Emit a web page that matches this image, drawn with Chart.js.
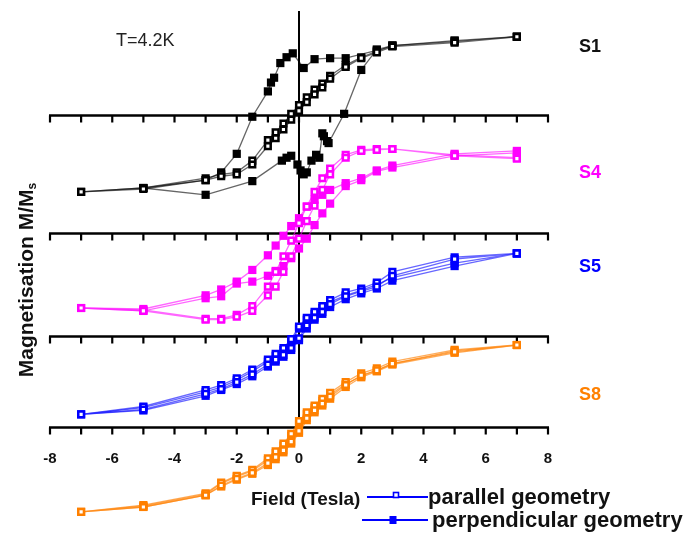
<!DOCTYPE html>
<html>
<head>
<meta charset="utf-8">
<script src="https://cdn.jsdelivr.net/npm/chart.js@4/dist/chart.umd.min.js"></script>
<style>
  html, body { margin: 0; padding: 0; background: #fff; }
  canvas { display: block; }
</style>
</head>
<body>
<canvas id="c" width="686" height="534"></canvas>
<script>
// Field sweep (Tesla): from +7 T down to -7 T, then back up to +7 T
const sweepDown = [7, 5, 3, 2.5, 2, 1.5, 1, 0.75, 0.5, 0.25, 0, -0.25, -0.5, -0.75, -1, -1.5, -2, -2.5, -3, -5, -7];
const sweepUp = [-5, -3, -2.5, -2, -1.5, -1, -0.75, -0.5, -0.25, 0, 0.25, 0.5, 0.75, 1, 1.5, 2, 2.5, 3, 5, 7];

// Tick labels on the field axis
const fieldTicks = [-8, -6, -4, -2, 0, 2, 4, 6, 8];
const sampleNames = ['S1', 'S4', 'S5', 'S8'];

// S1 — parallel geometry (M/Ms)
const s1ParDown = [0.970, 0.910, 0.861, 0.789, 0.717, 0.620, 0.488, 0.392, 0.319, 0.223, 0.127, 0.018, -0.102, -0.211, -0.307, -0.560, -0.705, -0.729, -0.777, -0.898, -0.946];
const s1ParUp = [-0.910, -0.801, -0.753, -0.729, -0.608, -0.380, -0.283, -0.175, -0.054, 0.054, 0.163, 0.259, 0.343, 0.452, 0.596, 0.705, 0.777, 0.849, 0.898, 0.970];

// S1 — perpendicular geometry, measured at its own field steps
const s1PerpFieldDown = [7, 5, 3, 2.5, 1.5, 1, 0.5, 0.15, -0.2, -0.4, -0.6, -0.8, -0.9, -1, -1.5, -2, -2.5, -3, -5, -7];
const s1PerpDown = [0.970, 0.922, 0.861, 0.801, 0.705, 0.705, 0.693, 0.584, 0.765, 0.717, 0.645, 0.464, 0.404, 0.295, -0.018, -0.476, -0.705, -0.801, -0.898, -0.946];
const s1PerpFieldUp = [-5, -3, -1.5, -0.55, -0.4, -0.25, -0.05, 0.05, 0.15, 0.25, 0.4, 0.55, 0.65, 0.75, 0.8, 0.9, 0.95, 1.45, 2, 2.5, 3, 5, 7];
const s1PerpUp = [-0.898, -0.982, -0.813, -0.560, -0.524, -0.500, -0.608, -0.681, -0.729, -0.705, -0.560, -0.488, -0.524, -0.223, -0.259, -0.319, -0.343, 0.018, 0.560, 0.813, 0.861, 0.922, 0.970];

// S4
const s4ParDown = [0.934, 0.970, 1.042, 1.042, 1.030, 0.970, 0.801, 0.681, 0.512, 0.331, 0.127, -0.090, -0.283, -0.476, -0.657, -0.898, -1.006, -1.054, -1.054, -0.946, -0.922];
const s4ParUp = [-0.958, -1.066, -1.066, -1.030, -0.958, -0.765, -0.657, -0.476, -0.283, -0.066, 0.151, 0.343, 0.536, 0.729, 0.934, 1.018, 1.030, 1.042, 0.958, 0.922];
const s4PerpDown = [1.018, 0.982, 0.837, 0.777, 0.681, 0.620, 0.536, 0.476, 0.416, 0.331, 0.187, 0.090, -0.030, -0.151, -0.271, -0.452, -0.596, -0.693, -0.765, -0.934, -0.922];
const s4PerpUp = [-0.958, -0.801, -0.777, -0.620, -0.596, -0.524, -0.464, -0.404, -0.307, -0.187, -0.066, 0.102, 0.247, 0.367, 0.584, 0.657, 0.765, 0.813, 0.958, 0.994];

// S5
const s5ParDown = [1.018, 0.970, 0.789, 0.657, 0.584, 0.536, 0.440, 0.367, 0.295, 0.223, 0.114, -0.042, -0.151, -0.223, -0.295, -0.416, -0.524, -0.608, -0.669, -0.873, -0.970];
const s5ParUp = [-0.910, -0.717, -0.657, -0.572, -0.476, -0.355, -0.295, -0.235, -0.151, -0.030, 0.127, 0.223, 0.295, 0.392, 0.488, 0.548, 0.608, 0.741, 0.946, 1.018];
const s5PerpDown = [1.018, 0.898, 0.717, 0.633, 0.560, 0.500, 0.416, 0.343, 0.271, 0.199, 0.090, -0.066, -0.175, -0.247, -0.319, -0.440, -0.548, -0.633, -0.693, -0.886, -0.970];
const s5PerpUp = [-0.922, -0.741, -0.669, -0.596, -0.500, -0.380, -0.319, -0.259, -0.175, -0.054, 0.090, 0.199, 0.271, 0.355, 0.452, 0.524, 0.584, 0.681, 0.861, 1.018];

// S8
const s8ParDown = [1.018, 0.958, 0.813, 0.729, 0.669, 0.560, 0.428, 0.355, 0.271, 0.187, 0.078, -0.078, -0.199, -0.295, -0.380, -0.524, -0.596, -0.681, -0.813, -0.958, -1.042];
const s8ParUp = [-0.982, -0.837, -0.717, -0.633, -0.560, -0.440, -0.367, -0.283, -0.175, -0.042, 0.114, 0.211, 0.295, 0.380, 0.524, 0.645, 0.705, 0.789, 0.934, 1.018];
const s8PerpDown = [1.018, 0.946, 0.789, 0.705, 0.633, 0.536, 0.404, 0.331, 0.247, 0.163, 0.042, -0.102, -0.223, -0.319, -0.404, -0.536, -0.608, -0.693, -0.825, -0.970, -1.042];
const s8PerpUp = [-0.982, -0.837, -0.729, -0.645, -0.572, -0.464, -0.392, -0.307, -0.199, -0.066, 0.090, 0.187, 0.271, 0.355, 0.500, 0.620, 0.693, 0.777, 0.922, 1.018];

// Vertical stacking: each sample's loop sits on its own baseline
const panelOffset = { S1: 0, S4: -1.458, S5: -2.723, S8: -3.855 };
const panelColor = { S1: '#000000', S4: '#ff00ff', S5: '#0000ff', S8: '#ff8000' };
const panelLine = { S1: 'rgba(0,0,0,0.6)', S4: 'rgba(255,0,255,0.6)', S5: 'rgba(0,0,255,0.6)', S8: 'rgba(255,128,0,0.65)' };

function loop(fDown, mDown, fUp, mUp, offset) {
  const pts = [];
  fDown.forEach((f, i) => pts.push({ x: f, y: mDown[i] + offset }));
  fUp.forEach((f, i) => pts.push({ x: f, y: mUp[i] + offset }));
  return pts;
}

function dataset(name, pts, filled) {
  const col = panelColor[name];
  return {
    label: name + (filled ? ' perpendicular' : ' parallel'),
    data: pts,
    showLine: true,
    borderColor: panelLine[name],
    borderWidth: 1.3,
    pointStyle: 'rect',
    pointRadius: filled ? 5.8 : 4,
    pointBorderWidth: filled ? 0 : 2.5,
    pointBorderColor: col,
    pointBackgroundColor: filled ? col : '#ffffff',
    clip: false
  };
}

const datasets = [
  dataset('S1', loop(sweepDown, s1ParDown, sweepUp, s1ParUp, panelOffset.S1), false),
  dataset('S1', loop(s1PerpFieldDown, s1PerpDown, s1PerpFieldUp, s1PerpUp, panelOffset.S1), true),
  dataset('S4', loop(sweepDown, s4ParDown, sweepUp, s4ParUp, panelOffset.S4), false),
  dataset('S4', loop(sweepDown, s4PerpDown, sweepUp, s4PerpUp, panelOffset.S4), true),
  dataset('S5', loop(sweepDown, s5ParDown, sweepUp, s5ParUp, panelOffset.S5), false),
  dataset('S5', loop(sweepDown, s5PerpDown, sweepUp, s5PerpUp, panelOffset.S5), true),
  dataset('S8', loop(sweepDown, s8ParDown, sweepUp, s8ParUp, panelOffset.S8), false),
  dataset('S8', loop(sweepDown, s8PerpDown, sweepUp, s8PerpUp, panelOffset.S8), true)
];

const FONT = '"Liberation Sans", Arial, sans-serif';

// Axes: one field axis per sample baseline, the zero-field line, labels and legend
const stackedAxes = {
  id: 'stackedAxes',
  beforeDatasetsDraw(chart) {
    const { ctx, scales: { x, y } } = chart;
    ctx.save();
    ctx.strokeStyle = '#000';
    ctx.lineCap = 'butt';
    const xl = x.getPixelForValue(-8), xr = x.getPixelForValue(8);
    sampleNames.forEach(n => {
      const py = Math.round(y.getPixelForValue(panelOffset[n])) + 0.5;
      ctx.lineWidth = 2.4;
      ctx.beginPath();
      ctx.moveTo(xl - 1, py);
      ctx.lineTo(xr + 1, py);
      ctx.stroke();
      ctx.lineWidth = 2.2;
      for (let v = -8; v <= 8; v++) {
        const px = x.getPixelForValue(v);
        ctx.beginPath();
        ctx.moveTo(px, py);
        ctx.lineTo(px, py + 7);
        ctx.stroke();
      }
    });
    // zero-field line
    const x0 = x.getPixelForValue(0);
    ctx.lineWidth = 2;
    ctx.beginPath();
    ctx.moveTo(x0, 11);
    ctx.lineTo(x0, y.getPixelForValue(panelOffset.S8));
    ctx.stroke();
    ctx.restore();
  },
  afterDraw(chart) {
    const { ctx, scales: { x, y } } = chart;
    ctx.save();
    // tick labels under the lowest axis
    const base = y.getPixelForValue(panelOffset.S8);
    ctx.fillStyle = '#111';
    ctx.font = 'bold 15px ' + FONT;
    ctx.textAlign = 'center';
    ctx.textBaseline = 'middle';
    fieldTicks.forEach(v => ctx.fillText(String(v), x.getPixelForValue(v), base + 31));

    // sample names
    ctx.font = 'bold 18px ' + FONT;
    const labelY = { S1: 47, S4: 173, S5: 267, S8: 395 };
    sampleNames.forEach(n => {
      ctx.fillStyle = panelColor[n] === '#000000' ? '#111' : panelColor[n];
      ctx.fillText(n, 590, labelY[n]);
    });

    // temperature
    ctx.fillStyle = '#222';
    ctx.font = '18px ' + FONT;
    ctx.textAlign = 'left';
    ctx.fillText('T=4.2K', 116, 41);

    // field axis title
    ctx.fillStyle = '#111';
    ctx.font = 'bold 19px ' + FONT;
    ctx.fillText('Field (Tesla)', 251, 500);

    // vertical axis title with subscript
    ctx.save();
    ctx.translate(27, 280);
    ctx.rotate(-Math.PI / 2);
    const main = 'Magnetisation M/M';
    ctx.font = 'bold 21px ' + FONT;
    const wMain = ctx.measureText(main).width;
    ctx.font = 'bold 12px ' + FONT;
    const wSub = ctx.measureText('s').width;
    const start = -(wMain + wSub) / 2;
    ctx.font = 'bold 21px ' + FONT;
    ctx.textAlign = 'left';
    ctx.fillText(main, start, 0);
    ctx.font = 'bold 12px ' + FONT;
    ctx.fillText('s', start + wMain, 6);
    ctx.restore();

    // legend
    const legendRows = [
      { text: 'parallel geometry', y: 497, x1: 367, x2: 428, mx: 396, filled: false, tx: 428 },
      { text: 'perpendicular geometry', y: 520, x1: 362, x2: 428, mx: 393, filled: true, tx: 432 }
    ];
    legendRows.forEach(r => {
      ctx.strokeStyle = '#0000ff';
      ctx.lineWidth = 2;
      ctx.beginPath();
      ctx.moveTo(r.x1, r.y);
      ctx.lineTo(r.x2, r.y);
      ctx.stroke();
      if (r.filled) {
        ctx.fillStyle = '#0000ff';
        ctx.fillRect(r.mx - 3.5, r.y - 4, 7, 8);
      } else {
        ctx.fillStyle = '#fff';
        ctx.fillRect(r.mx - 3, r.y - 5, 6, 6);
        ctx.lineWidth = 1.6;
        ctx.strokeRect(r.mx - 2.5, r.y - 4.5, 5, 5);
      }
      ctx.fillStyle = '#111';
      ctx.font = 'bold 22px ' + FONT;
      ctx.textAlign = 'left';
      ctx.textBaseline = 'middle';
      ctx.fillText(r.text, r.tx, r.y + 1);
    });
    ctx.restore();
  }
};

new Chart(document.getElementById('c'), {
  type: 'scatter',
  data: { datasets },
  options: {
    responsive: false,
    animation: false,
    layout: { padding: { left: 50, right: 138, top: 0, bottom: 0 } },
    plugins: { legend: { display: false }, tooltip: { enabled: false } },
    scales: {
      x: { type: 'linear', min: -8, max: 8, display: false },
      y: { type: 'linear', min: -5.0904, max: 1.3434, display: false }
    }
  },
  plugins: [stackedAxes]
});
</script>
</body>
</html>
